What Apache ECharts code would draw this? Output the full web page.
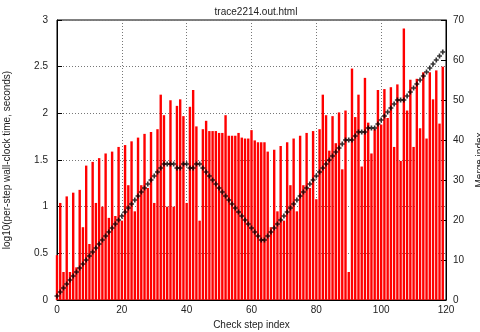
<!DOCTYPE html>
<html>
<head>
<meta charset="utf-8">
<script src="https://cdn.jsdelivr.net/npm/echarts@6/dist/echarts.min.js"></script>
<style>
  html, body { margin: 0; padding: 0; background: #fff; }
  #chart { width: 480px; height: 332px; }
</style>
</head>
<body>
<div id="chart"></div>
<script>
// log10 of wall-clock time per check step (step index = position in array)
var stepTimes = [
  0.48, 1.04, 0.30, 1.11, 0.30, 1.15, 0.35, 1.18, 0.78, 1.44,
  0.60, 1.48, 1.04, 1.52, 1.00, 1.57, 0.88, 1.59, 0.90, 1.64,
  0.85, 1.66, 1.23, 1.70, 0.95, 1.74, 1.23, 1.78, 1.20, 1.80,
  1.04, 1.83, 2.20, 1.98, 1.00, 2.14, 1.00, 2.08, 2.15, 1.97,
  1.04, 2.07, 2.25, 1.86, 0.85, 1.83, 1.92, 1.81, 1.81, 1.81,
  1.79, 1.79, 1.98, 1.76, 1.76, 1.76, 1.79, 1.74, 1.73, 1.73,
  1.82, 1.71, 1.69, 1.69, 1.69, 1.59, 0.78, 1.61, 0.95, 1.65,
  0.85, 1.69, 1.23, 1.73, 0.95, 1.76, 1.23, 1.79, 1.20, 1.81,
  1.08, 1.83, 2.20, 1.98, 1.60, 1.97, 1.68, 2.01, 1.40, 2.03,
  0.30, 2.48, 1.96, 2.20, 1.43, 2.38, 1.90, 1.57, 1.83, 2.25,
  1.88, 2.26, 1.95, 2.28, 1.64, 2.31, 1.49, 2.91, 2.03, 2.36,
  1.64, 2.37, 1.84, 2.44, 1.73, 2.44, 2.15, 2.46, 1.89, 2.50
];

// merge index per check step
var mergeIndex = [
  1, 2, 3, 4, 5, 6, 7, 8, 9, 10,
  11, 12, 13, 14, 15, 16, 17, 18, 19, 20,
  21, 22, 23, 24, 25, 26, 27, 28, 29, 30,
  31, 32, 33, 34, 34, 34, 34, 33, 33, 34,
  34, 33, 33, 34, 34, 33, 32, 31, 30, 29,
  28, 27, 26, 25, 24, 23, 22, 21, 20, 19,
  18, 17, 16, 15, 15, 16, 17, 18, 19, 20,
  21, 22, 23, 24, 25, 26, 27, 28, 29, 30,
  31, 32, 33, 34, 35, 36, 37, 38, 39, 40,
  40, 40, 41, 42, 42, 42, 43, 43, 43, 44,
  45, 46, 47, 48, 49, 50, 50, 50, 51, 52,
  53, 54, 55, 56, 57, 58, 59, 60, 61, 62
];

var xTicks = [0, 20, 40, 60, 80, 100, 120];

var font = '"Liberation Sans", Arial, sans-serif';
var chart = echarts.init(document.getElementById('chart'), null, { renderer: 'canvas' });

var gridLine = { show: true, lineStyle: { color: '#777', type: [1, 2], width: 1 } };

var option = {
  animation: false,
  textStyle: { fontFamily: font },
  title: {
    text: 'trace2214.out.html',
    left: 251,
    top: 2,
    textAlign: 'center',
    textStyle: { fontSize: 10, fontWeight: 'normal', color: '#222', fontFamily: font }
  },
  grid: {
    left: 57, right: 34, top: 20, bottom: 32,
    outerBoundsMode: 'none', containLabel: false,
    show: true, borderColor: '#000', borderWidth: 1, backgroundColor: 'transparent'
  },
  xAxis: {
    type: 'value', min: 0, max: 120, interval: 20,
    name: 'Check step index', nameLocation: 'middle', nameGap: 18,
    nameTextStyle: { fontSize: 10, color: '#222', fontFamily: font },
    axisLine: { show: true, lineStyle: { color: '#000' } },
    axisTick: { show: true, inside: true, length: 5, lineStyle: { color: '#000' } },
    axisLabel: {
      color: '#222', fontSize: 10, margin: 5, fontFamily: font,
      formatter: function (v) { return xTicks.indexOf(v) >= 0 ? String(v) : ''; }
    },
    splitLine: gridLine
  },
  yAxis: [
    {
      type: 'value', min: 0, max: 3, interval: 0.5,
      name: 'log10(per-step wall-clock time, seconds)', nameLocation: 'middle', nameGap: 45,
      nameTextStyle: { fontSize: 10, color: '#222', fontFamily: font },
      axisLine: { show: true, lineStyle: { color: '#000' } },
      axisTick: { show: true, inside: true, length: 5, lineStyle: { color: '#000' } },
      axisLabel: { color: '#222', fontSize: 10, margin: 9, fontFamily: font },
      splitLine: gridLine
    },
    {
      type: 'value', min: 0, max: 70, interval: 10, position: 'right',
      name: 'Merge index', nameLocation: 'middle', nameGap: 28, nameRotate: 90,
      nameTextStyle: { fontSize: 10, color: '#222', fontFamily: font },
      axisLine: { show: true, lineStyle: { color: '#000' } },
      axisTick: { show: true, inside: true, length: 5, lineStyle: { color: '#000' } },
      axisLabel: { color: '#222', fontSize: 10, margin: 7, fontFamily: font },
      splitLine: { show: false }
    }
  ],
  series: [
    {
      type: 'bar',
      yAxisIndex: 0,
      barWidth: 2.4,
      itemStyle: { color: '#ff0000' },
      data: stepTimes.map(function (v, i) { return [i, v]; })
    },
    {
      type: 'scatter',
      yAxisIndex: 1,
      symbol: 'path://M2,0H4V2H6V4H4V6H2V4H0V2H2Z',
      symbolSize: 5,
      itemStyle: { color: '#000' },
      data: mergeIndex.map(function (v, i) { return [i, v]; })
    }
  ]
};

chart.setOption(option);
</script>
</body>
</html>
